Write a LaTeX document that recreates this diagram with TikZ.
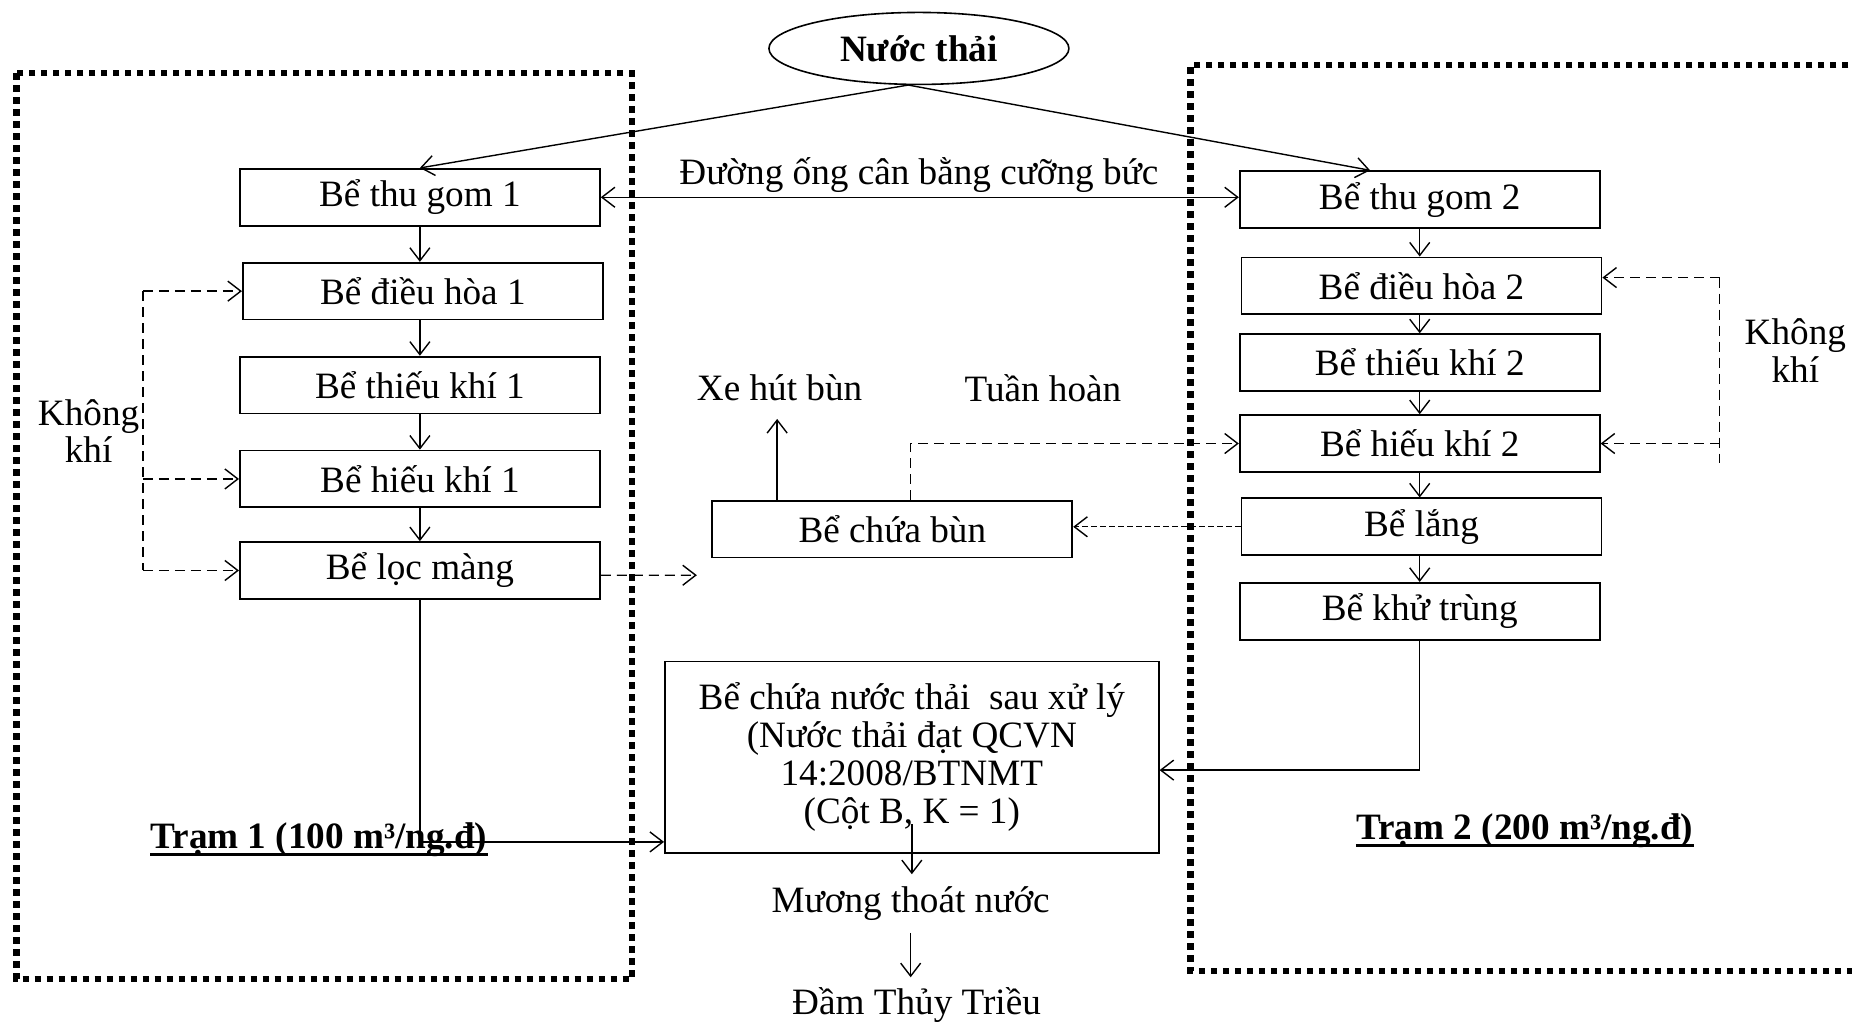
\documentclass[tikz,border=0pt]{standalone}
\usepackage{fontspec}
\setmainfont{Liberation Serif}
\usetikzlibrary{arrows.meta,shapes.geometric,calc}
\begin{document}
\begin{tikzpicture}[x=0.5906pt,y=-0.5906pt,
  font=\fontsize{18.6}{18.9}\selectfont,
  box/.style={draw,line width=0.9pt,minimum width=180pt,minimum height=28.4pt,inner sep=0pt},
  arr/.style={line width=0.7pt,-{Straight Barb[length=6.5pt,width=10pt]}},
  darr/.style={arr,dash pattern=on 5pt off 3pt},
  fdarr/.style={arr,dash pattern=on 2.7pt off 1.8pt},
  dsh/.style={line width=0.7pt,dash pattern=on 5pt off 3pt},
  dotbox/.style={line width=3.2pt,dash pattern=on 3.2pt off 2.8pt},
  lbl/.style={inner sep=0pt,align=center},
  trlbl/.style={inner sep=0pt,font=\fontsize{18.6}{18.9}\selectfont\bfseries},
  uline/.style={line width=1.4pt}
]
\useasboundingbox (0,0) rectangle (1568,865);
% station frames
\draw[dotbox] (14,62) rectangle (535,829);
\draw[dotbox] (1575,55) -- (1008,55) -- (1008,822) -- (1575,822);

% source
\node[draw,ellipse,line width=0.8pt,minimum width=150pt,minimum height=36pt,inner sep=0pt] (src) at (778,41) {\bfseries Nước thải};
\coordinate (srcb) at (769,72);

% left column
\node[box] (tg1) at (355.5,167) {Bể thu gom 1};
\node[box] (dh1) at (358,246.5) {Bể điều hòa 1};
\node[box] (tk1) at (355.5,326) {Bể thiếu khí 1};
\node[box] (hk1) at (355.5,405.5) {Bể hiếu khí 1};
\node[box] (lm) at (355.5,483) {Bể lọc màng};

% right column
\node[box] (tg2) at (1202,169) {Bể thu gom 2};
\node[box] (dh2) at (1203.5,242) {Bể điều hòa 2};
\node[box] (tk2) at (1202,307) {Bể thiếu khí 2};
\node[box] (hk2) at (1202,375.5) {Bể hiếu khí 2};
\node[box] (lang) at (1203.5,446) {Bể lắng};
\node[box] (kt) at (1202,517.5) {Bể khử trùng};

% middle
\node[box] (bun) at (755.5,448) {Bể chứa bùn};
\node[box,minimum width=246.9pt,minimum height=95.7pt,align=center] (big) at (772,641)
  {Bể chứa nước thải\hspace{0.25em} sau xử lý\\(Nước thải đạt QCVN\\14:2008/BTNMT\\(Cột B, K = 1)};
\node[lbl] (xe) at (660,328) {Xe hút bùn};
\node[lbl] (th) at (883,329) {Tuần hoàn};
\node[lbl] (kkL) at (75,365) {Không\\khí};
\node[lbl] (kkR) at (1520,297) {Không\\khí};
\node[lbl] (pipe) at (778,148) {Đường ống cân bằng cưỡng bức};
\node[lbl] (mu) at (771,765) {Mương thoát nước};
\node[lbl] (dam) at (776,851) {Đầm Thủy Triều};
\node[trlbl] (tr1) at (270,711) {Trạm 1 (100 m³/ng.đ)};
\node[trlbl] (tr2) at (1291,703) {Trạm 2 (200 m³/ng.đ)};
\draw[uline] ([yshift=-3pt]tr1.base west) -- ([yshift=-3pt]tr1.base east);
\draw[uline] ([yshift=-3pt]tr2.base west) -- ([yshift=-3pt]tr2.base east);

% source lines
\draw[arr] (srcb) -- (tg1.north);
\draw[arr] (srcb) -- ([xshift=-24.8pt]tg2.north);

% balancing pipe
\draw[line width=0.7pt,{Straight Barb[length=6.5pt,width=10pt]}-{Straight Barb[length=6.5pt,width=10pt]}] (tg1.east) -- (tg1.east -| tg2.west);

% left chain
\draw[arr] (tg1.south) -- (tg1.south |- dh1.north);
\draw[arr] (dh1.south -| tk1.north) -- (tk1.north);
\draw[arr] (tk1.south) -- (hk1.north);
\draw[arr] (hk1.south) -- (lm.north);

% right chain
\draw[arr] (tg2.south) -- (tg2.south |- dh2.north);
\draw[arr] (dh2.south -| tk2.north) -- (tk2.north);
\draw[arr] (tk2.south) -- (hk2.north);
\draw[arr] (hk2.south) -- (hk2.south |- lang.north);
\draw[arr] (lang.south -| kt.north) -- (kt.north);

% air left
\coordinate (kl) at (121,0);
\draw[dsh] (dh1.west -| kl) -- (lm.west -| kl);
\draw[darr] (dh1.west -| kl) -- (dh1.west);
\draw[darr] (hk1.west -| kl) -- (hk1.west);
\draw[darr] (lm.west -| kl) -- (lm.west);

% air right
\coordinate (kr1) at (1456,235);
\coordinate (kr2) at (1456,392);
\draw[dsh] (kr1) -- (kr2);
\draw[darr] (kr1) -- (kr1 -| dh2.east);
\draw[darr] (hk2.east -| kr1) -- (hk2.east);

% sludge
\coordinate (lmEnd) at (590,487);
\draw[darr] ([yshift=-2.4pt]lm.east) -- (lmEnd);
\draw[fdarr] (lang.west) -- (lang.west -| bun.east);
\draw[arr,shorten >=9pt] ([xshift=-57.6pt]bun.north) -- ([xshift=-57.6pt]bun.north |- xe.south);
\draw[darr] ([xshift=9.2pt]bun.north) |- (hk2.west);

% treated water
\draw[arr] (lm.south) |- ([yshift=5.9pt]big.south west);
\draw[arr] (kt.south) |- ([yshift=-6.5pt]big.east);
\draw[arr,shorten >=6pt] ([yshift=14.8pt]big.south) -- (big.south |- mu.north);
\draw[arr,shorten <=6pt,shorten >=5pt] (mu.south) -- (mu.south |- dam.north);
\end{tikzpicture}
\end{document}
